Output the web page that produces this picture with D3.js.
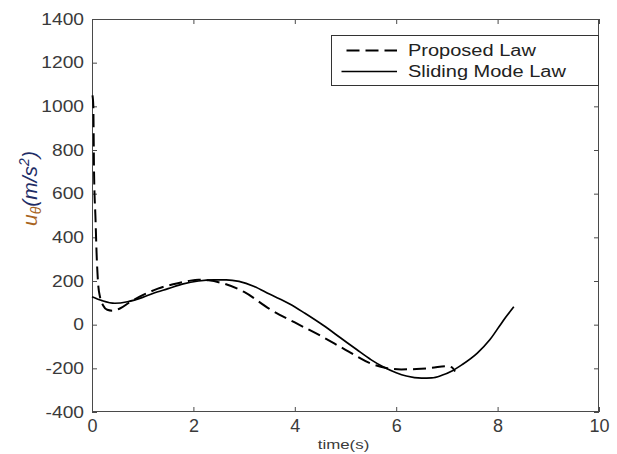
<!DOCTYPE html>
<html>
<head>
<meta charset="utf-8">
<script src="https://cdn.jsdelivr.net/npm/d3@7"></script>
<style>
  body { margin: 0; background: #fff; }
  text { font-family: Arial, "Liberation Sans", sans-serif; }
</style>
</head>
<body>
<svg id="chart" width="617" height="454"></svg>
<script>
// Control input u_theta over time for the two guidance laws
const timeProposed = [0.01, 0.026, 0.04, 0.07, 0.09, 0.12, 0.16, 0.22, 0.3, 0.4, 0.55, 0.75, 1.0, 1.3, 1.6, 1.9, 2.1, 2.3, 2.6, 3.0, 3.5, 4.0, 4.5, 5.0, 5.5, 5.8, 6.1, 6.4, 6.7, 7.0, 7.1, 7.16];
const uProposed    = [1050, 1000, 700, 480, 330, 190, 125, 88, 68, 64, 74, 104, 135, 165, 185, 200, 206, 203, 188, 150, 72, 10, -50, -115, -178, -198, -205, -203, -198, -190, -196, -214];

const timeSliding = [0, 0.2, 0.45, 0.7, 1.0, 1.2, 1.5, 1.8, 2.1, 2.4, 2.65, 2.9, 3.2, 3.5, 3.9, 4.2, 4.56, 4.9, 5.22, 5.5, 5.75, 6.0, 6.2, 6.5, 6.7, 6.9, 7.1, 7.3, 7.6, 7.85, 8.1, 8.32];
const uSliding    = [128, 110, 98, 105, 125, 143, 165, 187, 200, 205, 205, 198, 175, 140, 95, 52, -3, -60, -114, -160, -194, -220, -235, -245, -244, -232, -212, -183, -130, -68, 15, 82];

const xTicks = [0, 2, 4, 6, 8, 10];
const yTicks = [-400, -200, 0, 200, 400, 600, 800, 1000, 1200, 1400];
const seriesNames = ["Proposed Law", "Sliding Mode Law"];
const xTitle = "time(s)";

const W = 617, H = 454;
const m = { l: 92, r: 18, t: 19, b: 42 };
const frameColor = "#4a4a4a";
const labelColor = "#3a3a3a";
const plain = d => String(d);

const svg = d3.select("#chart");

const x = d3.scaleLinear().domain([0, 10]).range([m.l, W - m.r]);
const y = d3.scaleLinear().domain([-400, 1400]).range([H - m.b, m.t]);

// Inward ticks on all four sides
function styleAxis(g) {
  g.select(".domain").remove();
  g.selectAll(".tick line").attr("stroke", frameColor);
}

const gBottom = svg.append("g")
  .attr("transform", `translate(0,${y(-400)})`)
  .call(d3.axisBottom(x).tickValues(xTicks).tickFormat(plain).tickSize(-5).tickPadding(7))
  .call(styleAxis);
gBottom.selectAll(".tick text")
  .attr("font-size", 18).attr("fill", labelColor)
  .attr("font-family", "Arial, 'Liberation Sans', sans-serif");

const gLeft = svg.append("g")
  .attr("transform", `translate(${x(0)},0)`)
  .call(d3.axisLeft(y).tickValues(yTicks).tickFormat(plain).tickSize(-5).tickPadding(8))
  .call(styleAxis);
gLeft.selectAll(".tick text")
  .attr("font-size", 16).attr("fill", labelColor)
  .attr("font-family", "Arial, 'Liberation Sans', sans-serif")
  .attr("x", null)
  .attr("transform", "translate(-8,0) scale(1.2,1)");

svg.append("g")
  .attr("transform", `translate(0,${y(1400)})`)
  .call(d3.axisTop(x).tickValues(xTicks).tickSize(-5).tickFormat(""))
  .call(styleAxis);

svg.append("g")
  .attr("transform", `translate(${x(10)},0)`)
  .call(d3.axisRight(y).tickValues(yTicks).tickSize(-5).tickFormat(""))
  .call(styleAxis);

// Plot frame
svg.append("rect")
  .attr("x", x(0) + 0.5).attr("y", y(1400) + 0.5)
  .attr("width", x(10) - x(0) - 1).attr("height", y(-400) - y(1400) - 1)
  .attr("fill", "none").attr("stroke", frameColor).attr("stroke-width", 1);

// Curves
const line = d3.line()
  .x(d => x(d[0]))
  .y(d => y(d[1]))
  .curve(d3.curveMonotoneX);

const slidingPts = timeSliding.map((t, i) => [t, uSliding[i]]);
const proposedPts = timeProposed.map((t, i) => [t, uProposed[i]]);

svg.append("path")
  .attr("d", line(slidingPts))
  .attr("fill", "none").attr("stroke", "#000").attr("stroke-width", 1.7);

svg.append("path")
  .attr("d", line(proposedPts))
  .attr("fill", "none").attr("stroke", "#000").attr("stroke-width", 2)
  .attr("stroke-dasharray", "13,6");

// Axis titles
svg.append("text")
  .attr("transform", `translate(${(x(0) + x(10)) / 2 - 2},449) scale(1.3,1)`)
  .attr("text-anchor", "middle")
  .attr("font-size", 13).attr("fill", labelColor)
  .text(xTitle);

const yTitle = svg.append("text")
  .attr("transform", "translate(37,226) rotate(-90)")
  .attr("font-family", "'Liberation Serif', 'Times New Roman', serif")
  .attr("font-style", "italic")
  .attr("font-size", 21);
yTitle.append("tspan").attr("fill", "#a8641e").text("u");
yTitle.append("tspan").attr("fill", "#a8641e").attr("font-size", 14).attr("dy", 4).text("θ");
yTitle.append("tspan").attr("fill", "#1f2d66").attr("dy", -4).text("(m/s");
yTitle.append("tspan").attr("fill", "#1f2d66").attr("font-size", 14).attr("dy", -8).text("2");
yTitle.append("tspan").attr("fill", "#1f2d66").attr("dy", 8).text(")");

// Legend
const lg = svg.append("g");
lg.append("rect")
  .attr("x", 331.5).attr("y", 35.5).attr("width", 267).attr("height", 50)
  .attr("fill", "#fff").attr("stroke", "#333").attr("stroke-width", 1);
lg.append("line")
  .attr("x1", 346.5).attr("x2", 397).attr("y1", 50.5).attr("y2", 50.5)
  .attr("stroke", "#000").attr("stroke-width", 2).attr("stroke-dasharray", "13,6");
lg.append("line")
  .attr("x1", 341.5).attr("x2", 397).attr("y1", 71.5).attr("y2", 71.5)
  .attr("stroke", "#000").attr("stroke-width", 1.7);
lg.append("text")
  .attr("transform", "translate(408,56) scale(1.25,1)")
  .attr("font-size", 16).attr("fill", "#222")
  .text(seriesNames[0]);
lg.append("text")
  .attr("transform", "translate(408,77) scale(1.25,1)")
  .attr("font-size", 16).attr("fill", "#222")
  .text(seriesNames[1]);
</script>
</body>
</html>
